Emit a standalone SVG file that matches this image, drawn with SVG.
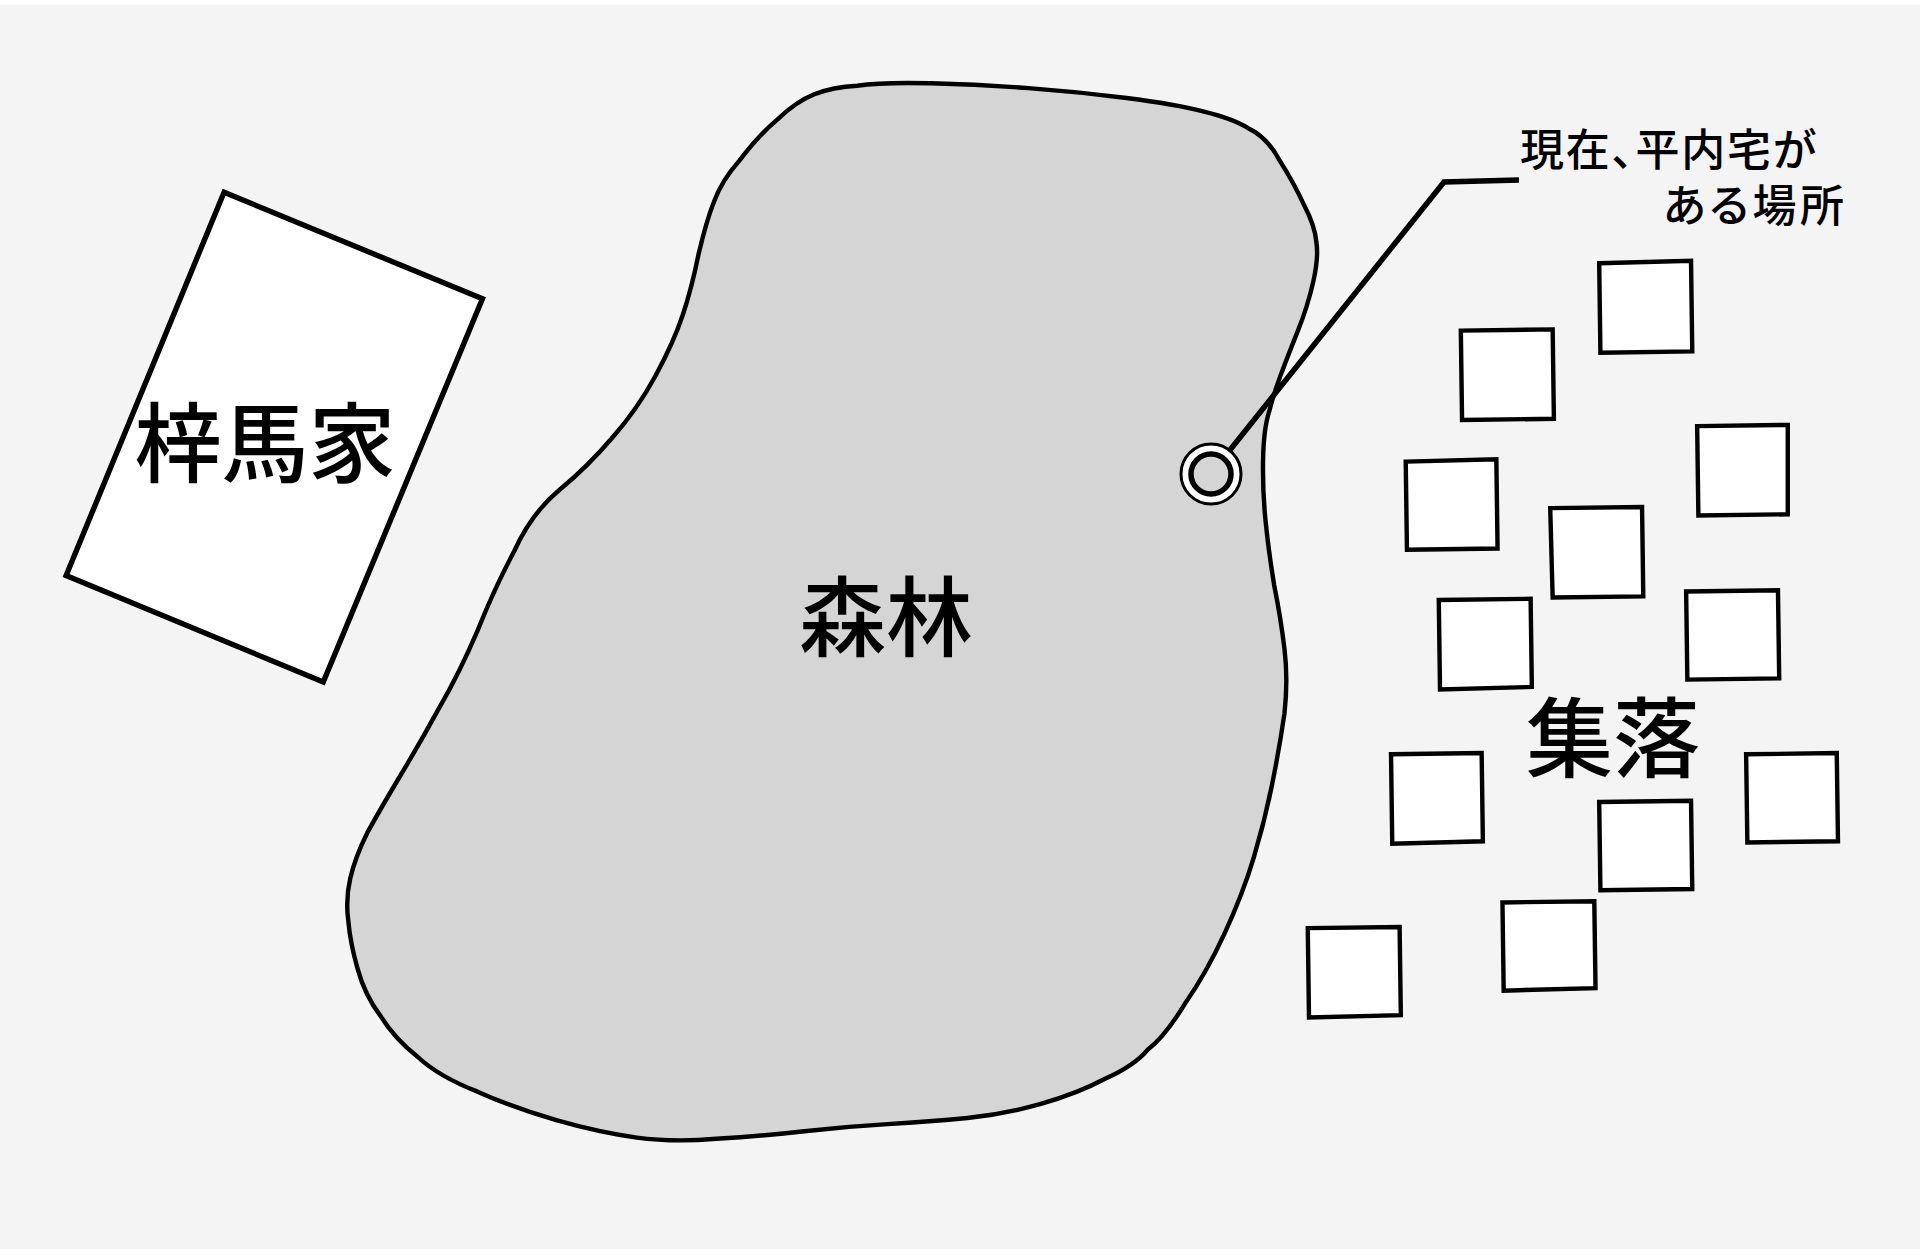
<svg xmlns="http://www.w3.org/2000/svg" width="1920" height="1256" viewBox="0 0 1920 1256">
<style>
.ln{stroke:#000;stroke-linejoin:miter}
.hut{fill:#fff;stroke:#000;stroke-width:3.6}
text{font-family:"Noto Sans CJK JP","Noto Sans",sans-serif;fill:#000}
.big{font-size:87px;font-weight:500;text-anchor:middle}
.note{font-size:44px;font-weight:500;font-feature-settings:"palt"}
</style>
<rect width="1920" height="1256" fill="#fff"/>
<rect id="ground" x="0" y="5" width="1920" height="1244" fill="#f4f4f4"/>
<g id="forest">
<path transform="scale(1.2245)" fill="#d5d5d5" stroke="#000" stroke-width="3.6" d="M700,70 Q720,67 760,68 Q800,69 840,72 Q880,75 920,80 Q960,85 982.5,91 Q1007,97 1019,104.5 Q1035,112 1045,131 Q1057,150 1065,167.5 Q1074,185 1075,197.5 Q1077,210 1072.5,230 Q1068,250 1060,270 Q1052,290 1046,306 Q1040,322 1036.5,336 Q1032,350 1031.5,375 Q1031,400 1033.5,425 Q1036,450 1040.5,477.5 Q1046,505 1049,530 Q1052,555 1049,582.5 Q1045,610 1039,640 Q1033,670 1024,700 Q1015,730 1000,762.5 Q985,795 967.5,820 Q951,847 937.5,857 Q927,870 902.5,881 Q880,893 850,901.5 Q820,910 790,913 Q760,916 725,918 Q690,920 655,924 Q620,928 585,930 Q550,933 520,929 Q490,925 455,915 Q420,905 390,891.5 Q358,879 341,863 Q322,848 311,830 Q298,813 292,791 Q286,770 284.5,752.5 Q282,735 286,717.5 Q290,700 300,680 Q311,660 327.5,632.5 Q344,605 359,577.5 Q375,550 390,515 Q404,480 420,450 Q434,419 457,400 Q480,381 500,357.5 Q520,335 535,307.5 Q550,280 557.5,257.5 Q565,235 570.5,207.5 Q577,180 583,165 Q589,148 604,131 Q620,110 635,97.5 Q650,83 665,77 Q680,71 700,70 Z"/>
<text class="big" x="886" y="650">森林</text>
</g>
<g id="azuma-house">
<polygon transform="scale(1.2245)" fill="#fff" stroke="#000" stroke-width="4.4" points="183,157 394,244 264,557 54,470"/>
<text class="big" x="265" y="476">梓馬家</text>
</g>
<g id="village" transform="scale(1.2245)">
<polygon class="hut" points="1306,215 1381,213 1382,287 1307,288"/>
<polygon class="hut" points="1193,270 1268,269 1269,342 1194,343"/>
<polygon class="hut" points="1386,348 1460,347 1460,420 1387,421"/>
<polygon class="hut" points="1148,377 1222,375 1223,448 1149,449"/>
<polygon class="hut" points="1266,415 1341,414 1342,487 1268,488"/>
<polygon class="hut" points="1175,490 1250,489 1251,561 1176,563"/>
<polygon class="hut" points="1377,483 1452,482 1453,554 1378,555"/>
<polygon class="hut" points="1136,616 1210,615 1211,687 1137,689"/>
<polygon class="hut" points="1426,616 1500,615 1501,687 1427,688"/>
<polygon class="hut" points="1306,655 1381,654 1382,726 1307,727"/>
<polygon class="hut" points="1227,737 1302,736 1303,807 1228,809"/>
<polygon class="hut" points="1068,758 1143,757 1144,829 1069,831"/>
</g>
<text id="village-label" class="big" x="1613" y="771">集落</text>
<g id="connectors">
<path fill="none" class="ln" stroke-width="5.5" d="M1230,450 L1444,182 L1519,180"/>
</g>
<g id="site">
<circle cx="1211" cy="474" r="30" fill="#fff" stroke="#000" stroke-width="3"/>
<circle cx="1211" cy="474" r="20" fill="#d5d5d5" stroke="#000" stroke-width="5.5"/>
</g>
<g id="note">
<text class="note" x="1520" y="166" textLength="296">現在、平内宅が</text>
<text class="note" x="1663" y="222" textLength="181">ある場所</text>
</g>
</svg>
